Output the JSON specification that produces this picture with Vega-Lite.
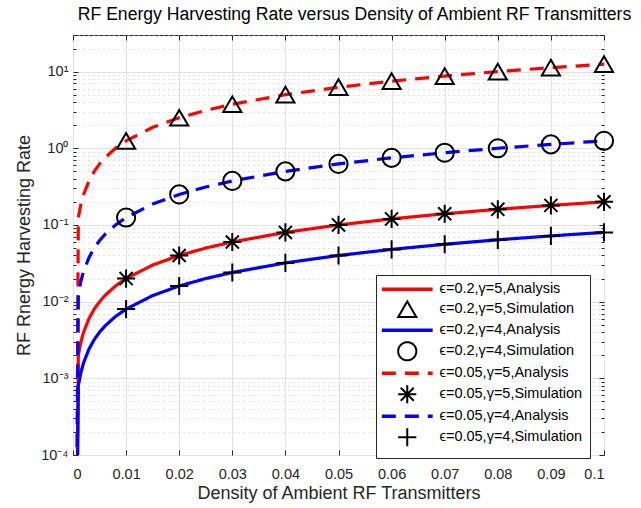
{
  "$schema": "https://vega.github.io/schema/vega-lite/v6.json",
  "width": 531,
  "height": 420,
  "autosize": "none",
  "padding": {"left": 73, "top": 35, "right": 37, "bottom": 53},
  "background": "white",
  "title": {"text": "RF Energy Harvesting Rate versus Density of Ambient RF Transmitters", "font": "Liberation Sans", "fontSize": 17.6, "fontWeight": "normal", "color": "#000000", "anchor": "middle", "frame": "group", "offset": 3, "dx": 16},
  "datasets": {
    "lines": [
      {"x": 0.0006, "y": 0.000001, "label": "ϵ=0.2,γ=5,Analysis"},
      {"x": 0.001, "y": 0.002, "label": "ϵ=0.2,γ=5,Analysis"},
      {"x": 0.0015, "y": 0.003, "label": "ϵ=0.2,γ=5,Analysis"},
      {"x": 0.002, "y": 0.004, "label": "ϵ=0.2,γ=5,Analysis"},
      {"x": 0.003, "y": 0.006, "label": "ϵ=0.2,γ=5,Analysis"},
      {"x": 0.004, "y": 0.008, "label": "ϵ=0.2,γ=5,Analysis"},
      {"x": 0.005, "y": 0.01, "label": "ϵ=0.2,γ=5,Analysis"},
      {"x": 0.006, "y": 0.012, "label": "ϵ=0.2,γ=5,Analysis"},
      {"x": 0.008, "y": 0.016, "label": "ϵ=0.2,γ=5,Analysis"},
      {"x": 0.01, "y": 0.02, "label": "ϵ=0.2,γ=5,Analysis"},
      {"x": 0.015, "y": 0.03, "label": "ϵ=0.2,γ=5,Analysis"},
      {"x": 0.02, "y": 0.04, "label": "ϵ=0.2,γ=5,Analysis"},
      {"x": 0.025, "y": 0.05, "label": "ϵ=0.2,γ=5,Analysis"},
      {"x": 0.03, "y": 0.06, "label": "ϵ=0.2,γ=5,Analysis"},
      {"x": 0.04, "y": 0.08, "label": "ϵ=0.2,γ=5,Analysis"},
      {"x": 0.05, "y": 0.1, "label": "ϵ=0.2,γ=5,Analysis"},
      {"x": 0.06, "y": 0.12, "label": "ϵ=0.2,γ=5,Analysis"},
      {"x": 0.07, "y": 0.14, "label": "ϵ=0.2,γ=5,Analysis"},
      {"x": 0.08, "y": 0.16, "label": "ϵ=0.2,γ=5,Analysis"},
      {"x": 0.09, "y": 0.18, "label": "ϵ=0.2,γ=5,Analysis"},
      {"x": 0.1, "y": 0.2, "label": "ϵ=0.2,γ=5,Analysis"},

      {"x": 0.0006, "y": 0.000001, "label": "ϵ=0.2,γ=4,Analysis"},
      {"x": 0.001, "y": 0.0008, "label": "ϵ=0.2,γ=4,Analysis"},
      {"x": 0.0015, "y": 0.0012, "label": "ϵ=0.2,γ=4,Analysis"},
      {"x": 0.002, "y": 0.0016, "label": "ϵ=0.2,γ=4,Analysis"},
      {"x": 0.003, "y": 0.0024, "label": "ϵ=0.2,γ=4,Analysis"},
      {"x": 0.004, "y": 0.0032, "label": "ϵ=0.2,γ=4,Analysis"},
      {"x": 0.005, "y": 0.004, "label": "ϵ=0.2,γ=4,Analysis"},
      {"x": 0.006, "y": 0.0048, "label": "ϵ=0.2,γ=4,Analysis"},
      {"x": 0.008, "y": 0.0064, "label": "ϵ=0.2,γ=4,Analysis"},
      {"x": 0.01, "y": 0.008, "label": "ϵ=0.2,γ=4,Analysis"},
      {"x": 0.015, "y": 0.012, "label": "ϵ=0.2,γ=4,Analysis"},
      {"x": 0.02, "y": 0.016, "label": "ϵ=0.2,γ=4,Analysis"},
      {"x": 0.025, "y": 0.02, "label": "ϵ=0.2,γ=4,Analysis"},
      {"x": 0.03, "y": 0.024, "label": "ϵ=0.2,γ=4,Analysis"},
      {"x": 0.04, "y": 0.032, "label": "ϵ=0.2,γ=4,Analysis"},
      {"x": 0.05, "y": 0.04, "label": "ϵ=0.2,γ=4,Analysis"},
      {"x": 0.06, "y": 0.048, "label": "ϵ=0.2,γ=4,Analysis"},
      {"x": 0.07, "y": 0.056, "label": "ϵ=0.2,γ=4,Analysis"},
      {"x": 0.08, "y": 0.064, "label": "ϵ=0.2,γ=4,Analysis"},
      {"x": 0.09, "y": 0.072, "label": "ϵ=0.2,γ=4,Analysis"},
      {"x": 0.1, "y": 0.08, "label": "ϵ=0.2,γ=4,Analysis"},

      {"x": 0.0006, "y": 0.000001, "label": "ϵ=0.05,γ=5,Analysis"},
      {"x": 0.001, "y": 0.125, "label": "ϵ=0.05,γ=5,Analysis"},
      {"x": 0.0015, "y": 0.1875, "label": "ϵ=0.05,γ=5,Analysis"},
      {"x": 0.002, "y": 0.25, "label": "ϵ=0.05,γ=5,Analysis"},
      {"x": 0.003, "y": 0.375, "label": "ϵ=0.05,γ=5,Analysis"},
      {"x": 0.004, "y": 0.5, "label": "ϵ=0.05,γ=5,Analysis"},
      {"x": 0.005, "y": 0.625, "label": "ϵ=0.05,γ=5,Analysis"},
      {"x": 0.006, "y": 0.75, "label": "ϵ=0.05,γ=5,Analysis"},
      {"x": 0.008, "y": 1.0, "label": "ϵ=0.05,γ=5,Analysis"},
      {"x": 0.01, "y": 1.25, "label": "ϵ=0.05,γ=5,Analysis"},
      {"x": 0.015, "y": 1.875, "label": "ϵ=0.05,γ=5,Analysis"},
      {"x": 0.02, "y": 2.5, "label": "ϵ=0.05,γ=5,Analysis"},
      {"x": 0.025, "y": 3.125, "label": "ϵ=0.05,γ=5,Analysis"},
      {"x": 0.03, "y": 3.75, "label": "ϵ=0.05,γ=5,Analysis"},
      {"x": 0.04, "y": 5.0, "label": "ϵ=0.05,γ=5,Analysis"},
      {"x": 0.05, "y": 6.25, "label": "ϵ=0.05,γ=5,Analysis"},
      {"x": 0.06, "y": 7.5, "label": "ϵ=0.05,γ=5,Analysis"},
      {"x": 0.07, "y": 8.75, "label": "ϵ=0.05,γ=5,Analysis"},
      {"x": 0.08, "y": 10.0, "label": "ϵ=0.05,γ=5,Analysis"},
      {"x": 0.09, "y": 11.25, "label": "ϵ=0.05,γ=5,Analysis"},
      {"x": 0.1, "y": 12.5, "label": "ϵ=0.05,γ=5,Analysis"},

      {"x": 0.0006, "y": 0.000001, "label": "ϵ=0.05,γ=4,Analysis"},
      {"x": 0.001, "y": 0.0125, "label": "ϵ=0.05,γ=4,Analysis"},
      {"x": 0.0015, "y": 0.01875, "label": "ϵ=0.05,γ=4,Analysis"},
      {"x": 0.002, "y": 0.025, "label": "ϵ=0.05,γ=4,Analysis"},
      {"x": 0.003, "y": 0.0375, "label": "ϵ=0.05,γ=4,Analysis"},
      {"x": 0.004, "y": 0.05, "label": "ϵ=0.05,γ=4,Analysis"},
      {"x": 0.005, "y": 0.0625, "label": "ϵ=0.05,γ=4,Analysis"},
      {"x": 0.006, "y": 0.075, "label": "ϵ=0.05,γ=4,Analysis"},
      {"x": 0.008, "y": 0.1, "label": "ϵ=0.05,γ=4,Analysis"},
      {"x": 0.01, "y": 0.125, "label": "ϵ=0.05,γ=4,Analysis"},
      {"x": 0.015, "y": 0.1875, "label": "ϵ=0.05,γ=4,Analysis"},
      {"x": 0.02, "y": 0.25, "label": "ϵ=0.05,γ=4,Analysis"},
      {"x": 0.025, "y": 0.3125, "label": "ϵ=0.05,γ=4,Analysis"},
      {"x": 0.03, "y": 0.375, "label": "ϵ=0.05,γ=4,Analysis"},
      {"x": 0.04, "y": 0.5, "label": "ϵ=0.05,γ=4,Analysis"},
      {"x": 0.05, "y": 0.625, "label": "ϵ=0.05,γ=4,Analysis"},
      {"x": 0.06, "y": 0.75, "label": "ϵ=0.05,γ=4,Analysis"},
      {"x": 0.07, "y": 0.875, "label": "ϵ=0.05,γ=4,Analysis"},
      {"x": 0.08, "y": 1.0, "label": "ϵ=0.05,γ=4,Analysis"},
      {"x": 0.09, "y": 1.125, "label": "ϵ=0.05,γ=4,Analysis"},
      {"x": 0.1, "y": 1.25, "label": "ϵ=0.05,γ=4,Analysis"}
    ],
    "markers": [
      {"x": 0.01, "y": 1.25, "label": "ϵ=0.2,γ=5,Simulation"},
      {"x": 0.02, "y": 2.5, "label": "ϵ=0.2,γ=5,Simulation"},
      {"x": 0.03, "y": 3.75, "label": "ϵ=0.2,γ=5,Simulation"},
      {"x": 0.04, "y": 5.0, "label": "ϵ=0.2,γ=5,Simulation"},
      {"x": 0.05, "y": 6.25, "label": "ϵ=0.2,γ=5,Simulation"},
      {"x": 0.06, "y": 7.5, "label": "ϵ=0.2,γ=5,Simulation"},
      {"x": 0.07, "y": 8.75, "label": "ϵ=0.2,γ=5,Simulation"},
      {"x": 0.08, "y": 10.0, "label": "ϵ=0.2,γ=5,Simulation"},
      {"x": 0.09, "y": 11.25, "label": "ϵ=0.2,γ=5,Simulation"},
      {"x": 0.1, "y": 12.5, "label": "ϵ=0.2,γ=5,Simulation"},
      {"x": 0.01, "y": 0.125, "label": "ϵ=0.2,γ=4,Simulation"},
      {"x": 0.02, "y": 0.25, "label": "ϵ=0.2,γ=4,Simulation"},
      {"x": 0.03, "y": 0.375, "label": "ϵ=0.2,γ=4,Simulation"},
      {"x": 0.04, "y": 0.5, "label": "ϵ=0.2,γ=4,Simulation"},
      {"x": 0.05, "y": 0.625, "label": "ϵ=0.2,γ=4,Simulation"},
      {"x": 0.06, "y": 0.75, "label": "ϵ=0.2,γ=4,Simulation"},
      {"x": 0.07, "y": 0.875, "label": "ϵ=0.2,γ=4,Simulation"},
      {"x": 0.08, "y": 1.0, "label": "ϵ=0.2,γ=4,Simulation"},
      {"x": 0.09, "y": 1.125, "label": "ϵ=0.2,γ=4,Simulation"},
      {"x": 0.1, "y": 1.25, "label": "ϵ=0.2,γ=4,Simulation"},
      {"x": 0.01, "y": 0.02, "label": "ϵ=0.05,γ=5,Simulation"},
      {"x": 0.02, "y": 0.04, "label": "ϵ=0.05,γ=5,Simulation"},
      {"x": 0.03, "y": 0.06, "label": "ϵ=0.05,γ=5,Simulation"},
      {"x": 0.04, "y": 0.08, "label": "ϵ=0.05,γ=5,Simulation"},
      {"x": 0.05, "y": 0.1, "label": "ϵ=0.05,γ=5,Simulation"},
      {"x": 0.06, "y": 0.12, "label": "ϵ=0.05,γ=5,Simulation"},
      {"x": 0.07, "y": 0.14, "label": "ϵ=0.05,γ=5,Simulation"},
      {"x": 0.08, "y": 0.16, "label": "ϵ=0.05,γ=5,Simulation"},
      {"x": 0.09, "y": 0.18, "label": "ϵ=0.05,γ=5,Simulation"},
      {"x": 0.1, "y": 0.2, "label": "ϵ=0.05,γ=5,Simulation"},
      {"x": 0.01, "y": 0.008, "label": "ϵ=0.05,γ=4,Simulation"},
      {"x": 0.02, "y": 0.016, "label": "ϵ=0.05,γ=4,Simulation"},
      {"x": 0.03, "y": 0.024, "label": "ϵ=0.05,γ=4,Simulation"},
      {"x": 0.04, "y": 0.032, "label": "ϵ=0.05,γ=4,Simulation"},
      {"x": 0.05, "y": 0.04, "label": "ϵ=0.05,γ=4,Simulation"},
      {"x": 0.06, "y": 0.048, "label": "ϵ=0.05,γ=4,Simulation"},
      {"x": 0.07, "y": 0.056, "label": "ϵ=0.05,γ=4,Simulation"},
      {"x": 0.08, "y": 0.064, "label": "ϵ=0.05,γ=4,Simulation"},
      {"x": 0.09, "y": 0.072, "label": "ϵ=0.05,γ=4,Simulation"},
      {"x": 0.1, "y": 0.08, "label": "ϵ=0.05,γ=4,Simulation"}
    ]
  },
  "layer": [
    {
      "data": {"name": "lines"},
      "mark": {"type": "line", "strokeWidth": 3.2, "clip": true},
      "encoding": {
        "x": {"field": "x", "type": "quantitative", "scale": {"domain": [0, 0.1], "nice": false, "zero": false},
          "axis": {"orient": "bottom", "title": "Density of Ambient RF Transmitters", "values": [0, 0.01, 0.02, 0.03, 0.04, 0.05, 0.06, 0.07, 0.08, 0.09, 0.1],
            "labelExpr": "datum.value == 0 ? '0' : format(datum.value, '.2~f')",
            "grid": true, "gridColor": "#e2e2e2", "gridWidth": 1, "domain": false,
            "ticks": true, "tickSize": -5, "tickColor": "#262626", "labelPadding": 17,
            "labelFont": "Liberation Sans", "labelFontSize": 14.5, "labelColor": "#262626",
            "titleFont": "Liberation Sans", "titleFontSize": 18, "titleFontWeight": "normal", "titleColor": "#262626", "titlePadding": 4}},
        "y": {"field": "y", "type": "quantitative", "scale": {"type": "log", "domain": [0.0001, 30], "nice": false},
          "axis": {"orient": "left", "title": "RF Rnergy Harvesting Rate",
            "values": [0.0001, 0.0002, 0.0003, 0.0004, 0.0005, 0.0006, 0.0007, 0.0008, 0.0009, 0.001, 0.002, 0.003, 0.004, 0.005, 0.006, 0.007, 0.008, 0.009, 0.01, 0.02, 0.03, 0.04, 0.05, 0.06, 0.07, 0.08, 0.09, 0.1, 0.2, 0.3, 0.4, 0.5, 0.6, 0.7, 0.8, 0.9, 1, 2, 3, 4, 5, 6, 7, 8, 9, 10, 20, 30],
            "labelExpr": "datum.value == 0.0001 ? '10⁻⁴' : datum.value == 0.001 ? '10⁻³' : datum.value == 0.01 ? '10⁻²' : datum.value == 0.1 ? '10⁻¹' : datum.value == 1 ? '10⁰' : datum.value == 10 ? '10¹' : ''",
            "grid": true,
            "gridColor": {"condition": {"test": "indexof([0.0001,0.001,0.01,0.1,1,10], datum.value) >= 0", "value": "#e2e2e2"}, "value": "#c4c4c4"},
            "gridDash": {"condition": {"test": "indexof([0.0001,0.001,0.01,0.1,1,10], datum.value) >= 0", "value": []}, "value": [1, 4]},
            "domain": false, "ticks": true,
            "tickSize": {"condition": {"test": "indexof([0.0001,0.001,0.01,0.1,1,10], datum.value) >= 0", "value": -5}, "value": -3},
            "tickColor": "#262626", "labelPadding": 10, "labelFlush": false, "labelOverlap": false,
            "labelFont": "Liberation Sans", "labelFontSize": 14.5, "labelColor": "#262626",
            "titleFont": "Liberation Sans", "titleFontSize": 18, "titleFontWeight": "normal", "titleColor": "#262626", "titlePadding": 7}},
        "color": {"field": "label", "type": "nominal",
          "scale": {"domain": ["ϵ=0.2,γ=5,Analysis", "ϵ=0.2,γ=5,Simulation", "ϵ=0.2,γ=4,Analysis", "ϵ=0.2,γ=4,Simulation", "ϵ=0.05,γ=5,Analysis", "ϵ=0.05,γ=5,Simulation", "ϵ=0.05,γ=4,Analysis", "ϵ=0.05,γ=4,Simulation"],
            "range": ["#ff0000", "#000000", "#0000ff", "#000000", "#ff0000", "#000000", "#0000ff", "#000000"]},
          "legend": {"title": null, "orient": "none", "legendX": 303, "legendY": 240, "padding": 7,
            "fillColor": "white", "strokeColor": "#262626", "symbolSize": 330, "symbolOffset": 17,
            "labelFont": "Liberation Sans", "labelFontSize": 14.5, "labelColor": "#000000", "labelOffset": 25, "rowPadding": 0,
            "encode": {"symbols": {"update": {
              "strokeWidth": {"signal": "test(/Analysis/, datum.value) ? 3.5 : 2"}
            }}}}},
        "strokeDash": {"field": "label", "type": "nominal",
          "scale": {"domain": ["ϵ=0.2,γ=5,Analysis", "ϵ=0.2,γ=5,Simulation", "ϵ=0.2,γ=4,Analysis", "ϵ=0.2,γ=4,Simulation", "ϵ=0.05,γ=5,Analysis", "ϵ=0.05,γ=5,Simulation", "ϵ=0.05,γ=4,Analysis", "ϵ=0.05,γ=4,Simulation"],
            "range": [[1, 0], [1, 0], [1, 0], [1, 0], [14, 9], [1, 0], [14, 9], [1, 0]]}}
      }
    },
    {
      "data": {"name": "markers"},
      "mark": {"type": "point", "filled": false, "strokeWidth": 2, "opacity": 1, "size": 330},
      "encoding": {
        "x": {"field": "x", "type": "quantitative",
          "axis": {"orient": "top", "title": null, "values": [0, 0.01, 0.02, 0.03, 0.04, 0.05, 0.06, 0.07, 0.08, 0.09, 0.1], "labels": false, "grid": false, "domain": false, "tickSize": -5, "tickColor": "#262626"}},
        "y": {"field": "y", "type": "quantitative",
          "axis": {"orient": "right", "title": null, "values": [0.0001, 0.0002, 0.0003, 0.0004, 0.0005, 0.0006, 0.0007, 0.0008, 0.0009, 0.001, 0.002, 0.003, 0.004, 0.005, 0.006, 0.007, 0.008, 0.009, 0.01, 0.02, 0.03, 0.04, 0.05, 0.06, 0.07, 0.08, 0.09, 0.1, 0.2, 0.3, 0.4, 0.5, 0.6, 0.7, 0.8, 0.9, 1, 2, 3, 4, 5, 6, 7, 8, 9, 10, 20, 30],
            "labels": false, "grid": false, "domain": false,
            "tickSize": {"condition": {"test": "indexof([0.0001,0.001,0.01,0.1,1,10], datum.value) >= 0", "value": -5}, "value": -3},
            "tickColor": "#262626"}},
        "color": {"field": "label", "type": "nominal"},
        "shape": {"field": "label", "type": "nominal",
          "scale": {"domain": ["ϵ=0.2,γ=5,Analysis", "ϵ=0.2,γ=5,Simulation", "ϵ=0.2,γ=4,Analysis", "ϵ=0.2,γ=4,Simulation", "ϵ=0.05,γ=5,Analysis", "ϵ=0.05,γ=5,Simulation", "ϵ=0.05,γ=4,Analysis", "ϵ=0.05,γ=4,Simulation"],
            "range": ["M-2.8,0L2.8,0", "triangle-up", "M-2.8,0L2.8,0", "circle", "M-2.8,0L2.8,0", "M-1,0L1,0M0,-1L0,1M-0.72,-0.72L0.72,0.72M-0.72,0.72L0.72,-0.72", "M-2.8,0L2.8,0", "M-1,0L1,0M0,-1L0,1"]}}
      }
    }
  ],
  "resolve": {"axis": {"x": "independent", "y": "independent"}},
  "config": {
    "view": {"stroke": "#262626", "strokeWidth": 1},
    "font": "Liberation Sans"
  }
}
